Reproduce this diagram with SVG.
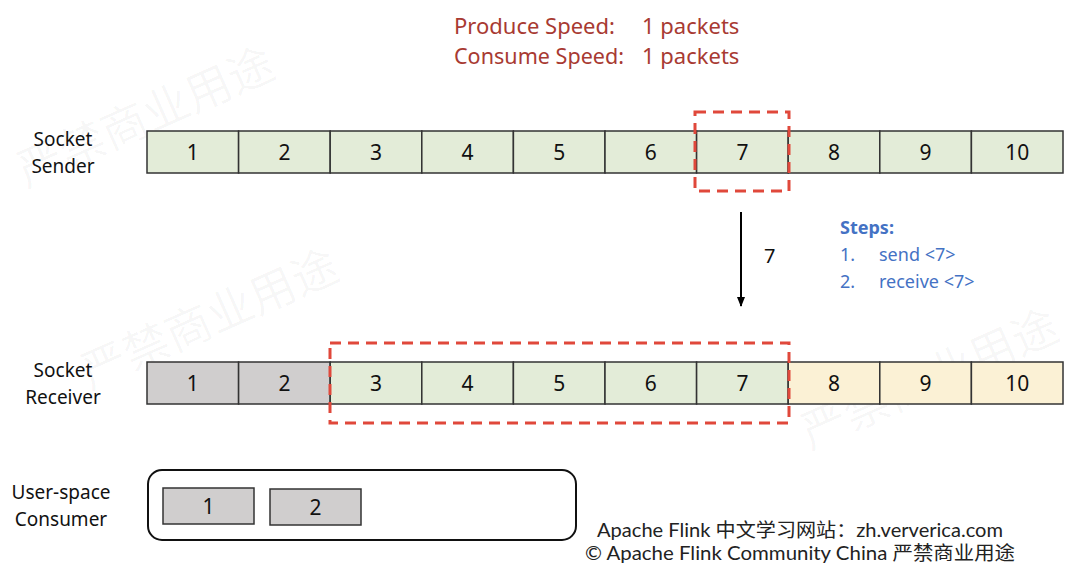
<svg xmlns="http://www.w3.org/2000/svg" width="1080" height="583" viewBox="0 0 1080 583">
<defs>
<style>
.t{font-family:"Noto Sans","Liberation Sans",sans-serif;fill:#111;}
.lbl{font-size:19px;text-anchor:middle;}
.num{font-size:21px;text-anchor:middle;}
.c{stroke:#333;stroke-width:1.5;}
.g{fill:#e3ecd8;}
.gr{fill:#d0cece;}
.y{fill:#fbf1d5;}
.dash{fill:none;stroke:#e0483b;stroke-width:3;stroke-dasharray:11 7;}
.red{font-family:"Noto Sans","Liberation Sans",sans-serif;font-size:22px;fill:#a83a32;}
.blue{font-family:"Noto Sans","Liberation Sans",sans-serif;font-size:18px;fill:#4472c4;}
.foot{font-family:"Lato","Noto Sans","Noto Sans CJK SC",sans-serif;font-size:19px;fill:#222;}
.wm{font-family:"Noto Sans CJK SC",sans-serif;font-size:46px;fill:#000;fill-opacity:0.035;}
</style>
<marker id="ah" markerWidth="10" markerHeight="10" refX="9" refY="5" orient="auto" markerUnits="userSpaceOnUse">
<path d="M0,1 L10,5 L0,9 Z" fill="#000"/>
</marker>
</defs>
<rect width="1080" height="583" fill="#fff"/>
<g id="watermarks">
<text class="wm" transform="translate(26,188) rotate(-24)">严禁商业用途</text>
<text class="wm" transform="translate(90,390) rotate(-24)">严禁商业用途</text>
<text class="wm" transform="translate(810,450) rotate(-24)">严禁商业用途</text>
</g>
<g id="speed">
<text class="red" x="454" y="34">Produce Speed:</text>
<text class="red" x="642" y="34">1 packets</text>
<text class="red" x="454" y="64" textLength="170" lengthAdjust="spacingAndGlyphs">Consume Speed:</text>
<text class="red" x="642" y="64">1 packets</text>
</g>
<g id="sender-label"><text class="t lbl" x="63" y="146">Socket</text><text class="t lbl" x="63" y="173">Sender</text></g>
<g id="sender">
<rect class="c g" x="147" y="131" width="91.6" height="42"/>
<rect class="c g" x="238.6" y="131" width="91.6" height="42"/>
<rect class="c g" x="330.2" y="131" width="91.6" height="42"/>
<rect class="c g" x="421.8" y="131" width="91.6" height="42"/>
<rect class="c g" x="513.4" y="131" width="91.6" height="42"/>
<rect class="c g" x="605" y="131" width="91.6" height="42"/>
<rect class="c g" x="696.6" y="131" width="91.6" height="42"/>
<rect class="c g" x="788.2" y="131" width="91.6" height="42"/>
<rect class="c g" x="879.8" y="131" width="91.6" height="42"/>
<rect class="c g" x="971.4" y="131" width="91.6" height="42"/>
<text class="t num" x="192.8" y="160">1</text>
<text class="t num" x="284.4" y="160">2</text>
<text class="t num" x="376" y="160">3</text>
<text class="t num" x="467.6" y="160">4</text>
<text class="t num" x="559.2" y="160">5</text>
<text class="t num" x="650.8" y="160">6</text>
<text class="t num" x="742.4" y="160">7</text>
<text class="t num" x="834" y="160">8</text>
<text class="t num" x="925.6" y="160">9</text>
<text class="t num" x="1017.2" y="160">10</text>
</g>
<g id="sender-highlight"><rect class="dash" x="695" y="112" width="94" height="79"/></g>
<g id="connectors">
<line x1="741" y1="212" x2="741" y2="306" stroke="#000" stroke-width="2" marker-end="url(#ah)"/>
<text class="t" x="764" y="263" font-size="20">7</text>
</g>
<g id="steps">
<text class="blue" x="840" y="234" font-weight="bold">Steps:</text>
<text class="blue" x="840" y="261">1.</text><text class="blue" x="879" y="261">send &lt;7&gt;</text>
<text class="blue" x="840" y="288">2.</text><text class="blue" x="879" y="288">receive &lt;7&gt;</text>
</g>
<g id="receiver-label"><text class="t lbl" x="63" y="377">Socket</text><text class="t lbl" x="63" y="404">Receiver</text></g>
<g id="receiver">
<rect class="c gr" x="147" y="362" width="91.6" height="42"/>
<rect class="c gr" x="238.6" y="362" width="91.6" height="42"/>
<rect class="c g" x="330.2" y="362" width="91.6" height="42"/>
<rect class="c g" x="421.8" y="362" width="91.6" height="42"/>
<rect class="c g" x="513.4" y="362" width="91.6" height="42"/>
<rect class="c g" x="605" y="362" width="91.6" height="42"/>
<rect class="c g" x="696.6" y="362" width="91.6" height="42"/>
<rect class="c y" x="788.2" y="362" width="91.6" height="42"/>
<rect class="c y" x="879.8" y="362" width="91.6" height="42"/>
<rect class="c y" x="971.4" y="362" width="91.6" height="42"/>
<text class="t num" x="192.8" y="391">1</text>
<text class="t num" x="284.4" y="391">2</text>
<text class="t num" x="376" y="391">3</text>
<text class="t num" x="467.6" y="391">4</text>
<text class="t num" x="559.2" y="391">5</text>
<text class="t num" x="650.8" y="391">6</text>
<text class="t num" x="742.4" y="391">7</text>
<text class="t num" x="834" y="391">8</text>
<text class="t num" x="925.6" y="391">9</text>
<text class="t num" x="1017.2" y="391">10</text>
</g>
<g id="receiver-highlight"><rect class="dash" x="330" y="343" width="459" height="80"/></g>
<g id="consumer-label"><text class="t lbl" x="61" y="499">User-space</text><text class="t lbl" x="61" y="526">Consumer</text></g>
<g id="consumer">
<rect x="148" y="470" width="428" height="70" rx="14" fill="#fff" stroke="#111" stroke-width="2"/>
<rect class="c gr" x="163" y="488" width="91" height="36"/>
<rect class="c gr" x="270" y="489" width="91" height="36"/>
<text class="t num" x="208.5" y="514">1</text>
<text class="t num" x="315.5" y="515">2</text>
</g>
<g id="footer">
<text class="foot" x="597" y="537" textLength="406" lengthAdjust="spacingAndGlyphs">Apache Flink 中文学习网站：zh.ververica.com</text>
<text class="foot" x="585" y="560" textLength="430" lengthAdjust="spacingAndGlyphs">© Apache Flink Community China  严禁商业用途</text>
</g>
</svg>
